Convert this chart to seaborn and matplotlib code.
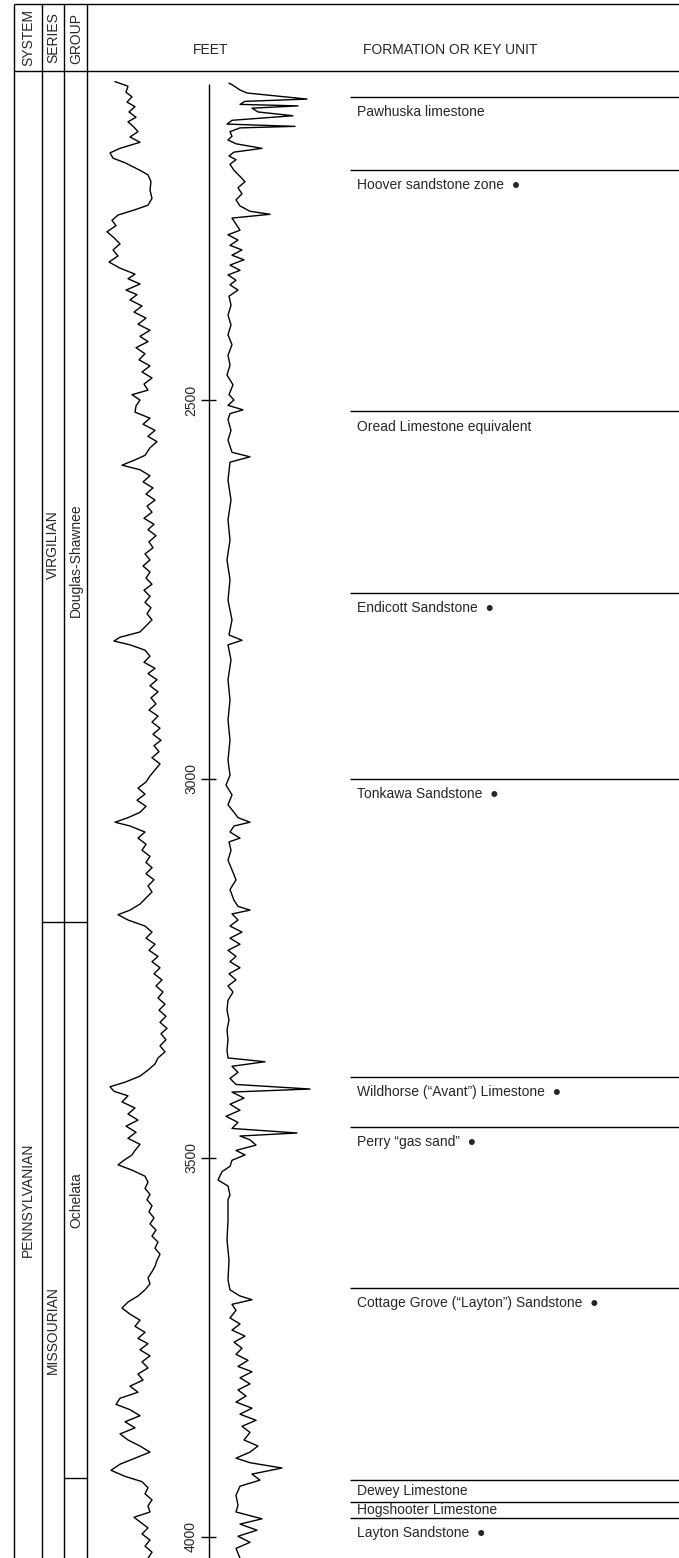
import matplotlib
matplotlib.use("Agg")
import matplotlib.pyplot as plt
import seaborn as sns

# ---- data -------------------------------------------------------------
# depth ticks (ft)
depth_ticks = [2500, 3000, 3500, 4000]

# formation / key unit tops (ft)
formation_names = [
    "Pawhuska limestone",
    "Hoover sandstone zone",
    "Oread Limestone equivalent",
    "Endicott Sandstone",
    "Tonkawa Sandstone",
    "Wildhorse (\u201cAvant\u201d) Limestone",
    "Perry \u201cgas sand\u201d",
    "Cottage Grove (\u201cLayton\u201d) Sandstone",
    "Dewey Limestone",
    "Hogshooter Limestone",
    "Layton Sandstone",
]
formation_tops = [2100, 2197, 2515, 2755, 3000, 3393, 3459, 3671, 3925, 3954, 3975]
formation_key = [False, True, False, True, True, True, True, True, False, False, True]

# stratigraphic columns
series_names = ["VIRGILIAN", "MISSOURIAN"]
series_base = [3189]
group_names = ["Douglas-Shawnee", "Ochelata", ""]
group_base = [3189, 3922]

# left log curve (depth ft, relative deflection)
gr_depth = [2080, 2086, 2094, 2100, 2107, 2113, 2120, 2127, 2133, 2140, 2146, 2153,
            2160, 2168, 2174, 2181, 2187, 2197, 2203, 2212, 2223, 2234, 2243, 2249,
            2256, 2263, 2270, 2278, 2286, 2294, 2302, 2310, 2318, 2326, 2334, 2340,
            2347, 2355, 2361, 2368, 2376, 2384, 2392, 2400, 2408, 2416, 2423, 2431,
            2439, 2447, 2455, 2463, 2471, 2479, 2487, 2493, 2500, 2508, 2516, 2524,
            2532, 2540, 2548, 2555, 2563, 2573, 2579, 2586, 2592, 2600, 2608, 2616,
            2624, 2632, 2640, 2648, 2656, 2664, 2671, 2679, 2687, 2695, 2703, 2711,
            2719, 2727, 2735, 2743, 2751, 2759, 2767, 2774, 2782, 2790, 2798, 2806,
            2813, 2818, 2823, 2830, 2838, 2846, 2854, 2861, 2869, 2877, 2885, 2893,
            2901, 2909, 2917, 2925, 2933, 2941, 2949, 2956, 2964, 2972, 2980, 2988,
            2996, 3004, 3012, 3020, 3028, 3036, 3044, 3051, 3057, 3062, 3070, 3078,
            3086, 3094, 3102, 3110, 3117, 3125, 3133, 3141, 3149, 3157, 3165, 3173,
            3179, 3186, 3194, 3202, 3210, 3218, 3226, 3234, 3241, 3249, 3257, 3265,
            3273, 3281, 3289, 3297, 3305, 3313, 3321, 3329, 3336, 3344, 3352, 3360,
            3368, 3376, 3384, 3392, 3400, 3406, 3412, 3418, 3426, 3434, 3442, 3450,
            3458, 3466, 3474, 3482, 3490, 3496, 3503, 3509, 3516, 3524, 3532, 3540,
            3548, 3555, 3563, 3571, 3579, 3587, 3595, 3603, 3611, 3619, 3627, 3635,
            3643, 3650, 3658, 3666, 3674, 3682, 3690, 3698, 3706, 3714, 3722, 3730,
            3738, 3745, 3753, 3761, 3769, 3777, 3785, 3793, 3801, 3809, 3817, 3825,
            3832, 3840, 3848, 3856, 3864, 3872, 3880, 3888, 3896, 3904, 3912, 3920,
            3927, 3935, 3943, 3951, 3959, 3967, 3974, 3980, 3988, 3996, 4004, 4012,
            4020, 4028]
gr_value = [15, 28, 26, 32, 27, 35, 29, 36, 28, 34, 38, 30,
            40, 20, 10, 13, 25, 40, 48, 51, 50, 52, 48, 35,
            18, 12, 16, 7, 14, 20, 13, 18, 9, 20, 35, 28,
            40, 26, 37, 30, 42, 34, 46, 38, 50, 40, 48, 36,
            45, 39, 50, 42, 52, 44, 48, 32, 40, 36, 35, 50,
            43, 55, 48, 57, 50, 45, 35, 22, 40, 50, 43, 53,
            46, 55, 47, 52, 44, 54, 48, 56, 49, 53, 45, 50,
            43, 50, 46, 52, 44, 50, 45, 51, 47, 52, 46, 40,
            20, 14, 30, 45, 50, 44, 55, 48, 57, 50, 58, 51,
            56, 49, 58, 52, 60, 53, 61, 54, 59, 52, 60, 55,
            50, 46, 38, 45, 37, 46, 40, 28, 15, 30, 45, 38,
            46, 42, 50, 46, 52, 46, 54, 48, 52, 46, 40, 30,
            18, 28, 45, 52, 46, 55, 49, 58, 52, 60, 54, 62,
            56, 63, 58, 65, 59, 66, 60, 67, 61, 66, 60, 65,
            58, 55, 48, 40, 25, 10, 14, 28, 22, 35, 28, 38,
            26, 36, 28, 40, 35, 32, 24, 18, 32, 45, 48, 45,
            50, 47, 52, 49, 54, 50, 56, 52, 58, 55, 60, 57,
            55, 52, 48, 50, 45, 38, 28, 22, 30, 40, 35, 45,
            38, 48, 40, 50, 42, 48, 38, 43, 30, 38, 20, 16,
            30, 40, 25, 35, 20, 28, 40, 50, 35, 20, 11, 25,
            42, 48, 45, 52, 48, 50, 34, 40, 48, 42, 50, 45,
            52, 48]

# right log curve (depth ft, relative deflection)
res_depth = [2082, 2084, 2091, 2095, 2103, 2106, 2110, 2112, 2115, 2120, 2125, 2131,
             2136, 2139, 2141, 2146, 2152, 2157, 2162, 2168, 2173, 2178, 2183, 2189,
             2197, 2205, 2212, 2220, 2228, 2236, 2244, 2251, 2255, 2260, 2268, 2276,
             2282, 2289, 2296, 2302, 2309, 2315, 2322, 2329, 2335, 2342, 2348, 2355,
             2363, 2375, 2388, 2401, 2414, 2427, 2441, 2454, 2467, 2480, 2493, 2500,
             2507, 2513, 2518, 2526, 2540, 2553, 2569, 2575, 2582, 2606, 2632, 2658,
             2685, 2711, 2737, 2764, 2790, 2810, 2817, 2823, 2843, 2869, 2896, 2922,
             2949, 2975, 2995, 3008, 3021, 3034, 3044, 3051, 3057, 3062, 3070, 3078,
             3083, 3094, 3107, 3120, 3133, 3146, 3160, 3168, 3173, 3178, 3186, 3194,
             3202, 3210, 3218, 3226, 3234, 3241, 3249, 3257, 3265, 3273, 3281, 3292,
             3305, 3318, 3331, 3344, 3358, 3368, 3373, 3379, 3387, 3395, 3403, 3409,
             3413, 3421, 3429, 3437, 3445, 3453, 3461, 3467, 3471, 3476, 3483, 3490,
             3496, 3503, 3511, 3518, 3529, 3537, 3549, 3555, 3582, 3608, 3635, 3661,
             3674, 3682, 3687, 3693, 3701, 3711, 3719, 3727, 3735, 3743, 3751, 3759,
             3767, 3775, 3782, 3790, 3798, 3806, 3814, 3822, 3830, 3838, 3846, 3854,
             3862, 3872, 3880, 3888, 3896, 3902, 3909, 3917, 3925, 3933, 3945, 3958,
             3967, 3976, 3983, 3991, 3999, 4007, 4015, 4028]
res_value = [19, 22, 30, 37, 97, 35, 30, 88, 42, 48, 83, 22,
             17, 85, 30, 20, 22, 18, 26, 52, 24, 19, 26, 20,
             24, 30, 35, 28, 32, 26, 30, 40, 60, 22, 26, 30,
             18, 28, 20, 32, 22, 34, 20, 30, 18, 26, 20, 28,
             19, 21, 18, 21, 18, 22, 18, 20, 17, 23, 19, 24,
             18, 33, 20, 18, 21, 18, 22, 40, 20, 18, 21, 18,
             20, 17, 20, 18, 22, 19, 32, 18, 21, 18, 20, 18,
             20, 18, 20, 16, 22, 18, 24, 28, 40, 24, 20, 30,
             19, 21, 18, 22, 26, 20, 24, 28, 40, 22, 28, 20,
             32, 20, 30, 18, 26, 20, 30, 19, 26, 18, 23, 18,
             17, 19, 17, 18, 17, 18, 55, 22, 28, 20, 26, 100,
             22, 34, 20, 30, 16, 28, 22, 87, 30, 40, 46, 26,
             35, 22, 20, 12, 8, 18, 20, 18, 18, 17, 19, 18,
             20, 30, 42, 22, 26, 20, 30, 22, 35, 24, 32, 26,
             38, 28, 42, 30, 40, 28, 36, 26, 42, 30, 46, 32,
             40, 34, 48, 40, 26, 40, 72, 42, 50, 30, 26, 28,
             26, 52, 30, 47, 28, 40, 26, 30]

# ---- layout -----------------------------------------------------------
W, H = 679, 1558
sns.set_style("white")
plt.rcParams["font.family"] = ["Liberation Sans", "DejaVu Sans"]


def depth_at(y):
    return 2500 + (y - 400) / 0.758


D_TOP, D_BOT = depth_at(0), depth_at(H)
fig = plt.figure(figsize=(W / 100, H / 100), dpi=100)
ax = fig.add_axes([0, 0, 1, 1])
ax.set_xlim(0, W)
ax.set_ylim(D_BOT, D_TOP)
ax.axis("off")

lw = 1.0
k = dict(color="black", lw=lw, solid_capstyle="butt")
hd_top, hd_bot = depth_at(4), depth_at(71)
col_x = [14, 42, 64, 87]

# header box
ax.plot([col_x[0], W], [hd_top, hd_top], **k)
ax.plot([col_x[0], W], [hd_bot, hd_bot], **k)
for x in col_x:
    ax.plot([x, x], [hd_top, D_BOT], **k)
fs = 10
for x, t in zip([28, 53, 76], ["SYSTEM", "SERIES", "GROUP"]):
    ax.text(x, depth_at(38), t, rotation=90, ha="center", va="center", fontsize=fs)
ax.text(211, depth_at(50), "FEET", ha="center", va="center", fontsize=fs)
ax.text(450, depth_at(50), "FORMATION OR KEY UNIT", ha="center", va="center", fontsize=fs)

# strat columns
ax.text(28, depth_at(1200), "PENNSYLVANIAN", rotation=90, ha="center", va="center", fontsize=fs)
for b in series_base:
    ax.plot([col_x[1], col_x[2]], [b, b], **k)
for b in group_base:
    ax.plot([col_x[2], col_x[3]], [b, b], **k)
ax.text(53, depth_at(545), series_names[0], rotation=90, ha="center", va="center", fontsize=fs)
ax.text(53, depth_at(1330), series_names[1], rotation=90, ha="center", va="center", fontsize=fs)
ax.text(76, depth_at(560), group_names[0], rotation=90, ha="center", va="center", fontsize=fs)
ax.text(76, depth_at(1200), group_names[1], rotation=90, ha="center", va="center", fontsize=fs)

# depth scale
ax.plot([209, 209], [depth_at(84), D_BOT], **k)
for d in depth_ticks:
    ax.plot([201, 216], [d, d], **k)
    ax.text(191, d, str(d), rotation=90, ha="center", va="center", fontsize=fs)

# formation tops
for i, (name, top, key) in enumerate(zip(formation_names, formation_tops, formation_key)):
    ax.plot([350, W], [top, top], **k)
    nxt = formation_tops[i + 1] if i + 1 < len(formation_tops) else top + 60
    yd = top + min(20, (nxt - top) / 2)
    ax.text(357, yd, name + ("  \u25cf" if key else ""), ha="left", va="center", fontsize=fs)

# log curves
gr_ax = fig.add_axes([100 / W, 0, 105 / W, 1])
res_ax = fig.add_axes([210 / W, 0, 110 / W, 1])
for a, dep, val, xmax in [(gr_ax, gr_depth, gr_value, 105), (res_ax, res_depth, res_value, 110)]:
    sns.lineplot(x=val, y=dep, sort=False, estimator=None, ax=a, color="black", lw=lw)
    a.set_xlim(0, xmax)
    a.set_ylim(D_BOT, D_TOP)
    a.axis("off")
    a.patch.set_alpha(0)

fig.savefig("out.png", dpi=100)
